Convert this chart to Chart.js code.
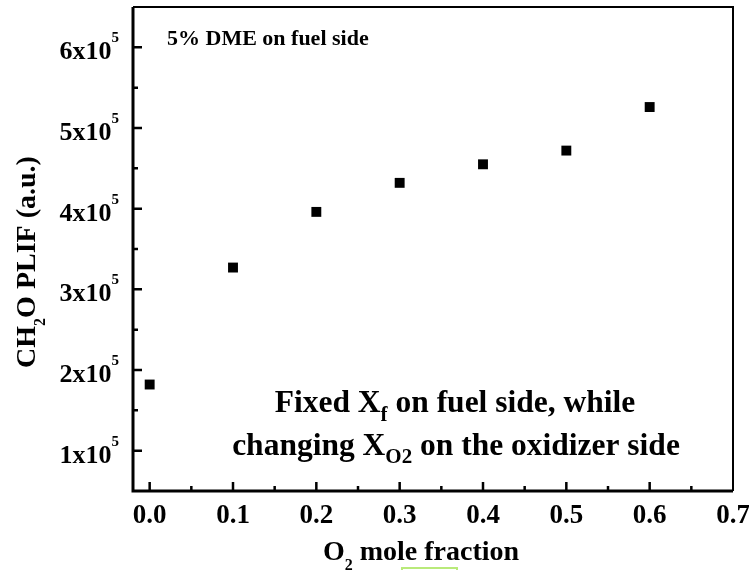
<!DOCTYPE html>
<html><head><meta charset="utf-8">
<script src="https://cdn.jsdelivr.net/npm/chart.js@4/dist/chart.umd.min.js"></script>
<style>html,body{margin:0;padding:0;background:#fff;}canvas{display:block;}</style>
</head><body>
<canvas id="c" width="749" height="570"></canvas>
<script>
// ---- data ----
const o2Fraction = [0.0, 0.1, 0.2, 0.3, 0.4, 0.5, 0.6];
const ch2oPlif = [182000, 327000, 396000, 432000, 455000, 472000, 526000];
const xTickValues = [0.0, 0.1, 0.2, 0.3, 0.4, 0.5, 0.6, 0.7];
const xTickLabels = ['0.0', '0.1', '0.2', '0.3', '0.4', '0.5', '0.6', '0.7'];
const xMinorValues = [0.05, 0.15, 0.25, 0.35, 0.45, 0.55, 0.65];
const yTickValues = [100000, 200000, 300000, 400000, 500000, 600000];
const yTickMantissas = ['1', '2', '3', '4', '5', '6'];
const yTickExponent = '5';
const yMinorValues = [150000, 250000, 350000, 450000, 550000];
const xAxisTitle = ['O', '2', ' mole fraction'];
const yAxisTitle = ['CH', '2', 'O PLIF (a.u.)'];
const noteTop = '5% DME on fuel side';
const noteLine1 = ['Fixed X', 'f', ' on fuel side, while'];
const noteLine2 = ['changing X', 'O2', ' on the oxidizer side'];

const FAM = '"Liberation Serif", "Times New Roman", serif';
function font(sz){ return 'bold ' + sz + 'px ' + FAM; }

function drawRich(ctx, segs, x, y, align){
  let w = 0;
  segs.forEach(s => { ctx.font = font(s.size); s.w = ctx.measureText(s.t).width; w += s.w; });
  let cx = align === 'center' ? x - w/2 : (align === 'right' ? x - w : x);
  ctx.textAlign = 'left';
  ctx.textBaseline = 'alphabetic';
  segs.forEach(s => { ctx.font = font(s.size); ctx.fillText(s.t, cx, y + (s.dy || 0)); cx += s.w; });
}

const decor = {
  id: 'decor',
  afterDraw(chart){
    const ctx = chart.ctx, a = chart.chartArea;
    const xs = chart.scales.x, ys = chart.scales.y;
    ctx.save();
    ctx.fillStyle = '#000';
    ctx.strokeStyle = '#000';
    // frame
    ctx.lineWidth = 2;
    ctx.beginPath();
    ctx.moveTo(a.left, a.top); ctx.lineTo(a.right, a.top); ctx.lineTo(a.right, a.bottom);
    ctx.stroke();
    ctx.lineWidth = 3;
    ctx.beginPath();
    ctx.moveTo(a.left, a.top); ctx.lineTo(a.left, a.bottom); ctx.lineTo(a.right, a.bottom);
    ctx.stroke();
    // ticks (inward)
    ctx.lineWidth = 2.5;
    ctx.beginPath();
    xTickValues.forEach(v => { const px = xs.getPixelForValue(v); if (px < a.right - 2) { ctx.moveTo(px, a.bottom); ctx.lineTo(px, a.bottom - 9); } });
    xMinorValues.forEach(v => { const px = xs.getPixelForValue(v); ctx.moveTo(px, a.bottom); ctx.lineTo(px, a.bottom - 5); });
    yTickValues.forEach(v => { const py = ys.getPixelForValue(v); ctx.moveTo(a.left, py); ctx.lineTo(a.left + 9, py); });
    yMinorValues.forEach(v => { const py = ys.getPixelForValue(v); ctx.moveTo(a.left, py); ctx.lineTo(a.left + 5, py); });
    ctx.stroke();
    // x tick labels
    xTickValues.forEach((v, i) => {
      drawRich(ctx, [{t: xTickLabels[i], size: 27}], xs.getPixelForValue(v), a.bottom + 32, 'center');
    });
    // y tick labels
    yTickValues.forEach((v, i) => {
      const py = ys.getPixelForValue(v);
      drawRich(ctx, [{t: yTickMantissas[i] + 'x10', size: 26}, {t: yTickExponent, size: 15, dy: -17}], 119, py + 12, 'right');
    });
    // x axis title
    drawRich(ctx, [{t: xAxisTitle[0], size: 28}, {t: xAxisTitle[1], size: 16, dy: 10}, {t: xAxisTitle[2], size: 28}], 421, 560, 'center');
    // y axis title (rotated)
    ctx.save();
    ctx.translate(35, 262);
    ctx.rotate(-Math.PI/2);
    drawRich(ctx, [{t: yAxisTitle[0], size: 28}, {t: yAxisTitle[1], size: 16, dy: 10}, {t: yAxisTitle[2], size: 28}], 0, 0, 'center');
    ctx.restore();
    // annotations
    drawRich(ctx, [{t: noteTop, size: 22}], 167, 45, 'left');
    drawRich(ctx, [{t: noteLine1[0], size: 31.5}, {t: noteLine1[1], size: 21, dy: 9}, {t: noteLine1[2], size: 31.5}], 455, 412, 'center');
    drawRich(ctx, [{t: noteLine2[0], size: 31.5}, {t: noteLine2[1], size: 21, dy: 8}, {t: noteLine2[2], size: 31.5}], 456, 455, 'center');
    // small green box artifact at bottom
    ctx.strokeStyle = '#b9ea7a';
    ctx.lineWidth = 2;
    ctx.strokeRect(402, 568, 55, 10);
    ctx.restore();
  }
};

new Chart(document.getElementById('c'), {
  type: 'scatter',
  data: {
    datasets: [{
      data: o2Fraction.map((x, i) => ({x: x, y: ch2oPlif[i]})),
      pointStyle: 'rect',
      pointRadius: 7,
      pointHoverRadius: 7,
      borderWidth: 0,
      backgroundColor: '#000',
      borderColor: '#000'
    }]
  },
  options: {
    responsive: false,
    animation: false,
    devicePixelRatio: 1,
    layout: {padding: {left: 0, top: 6, right: 16, bottom: 0}},
    plugins: {legend: {display: false}, tooltip: {enabled: false}},
    scales: {
      x: {
        type: 'linear', min: -0.02, max: 0.7,
        grid: {display: false, drawTicks: false}, border: {display: false},
        ticks: {display: false},
        afterFit(s){ s.height = 79; }
      },
      y: {
        type: 'linear', min: 50000, max: 650000,
        grid: {display: false, drawTicks: false}, border: {display: false},
        ticks: {display: false},
        afterFit(s){ s.width = 133; }
      }
    }
  },
  plugins: [decor]
});
</script>
</body></html>
